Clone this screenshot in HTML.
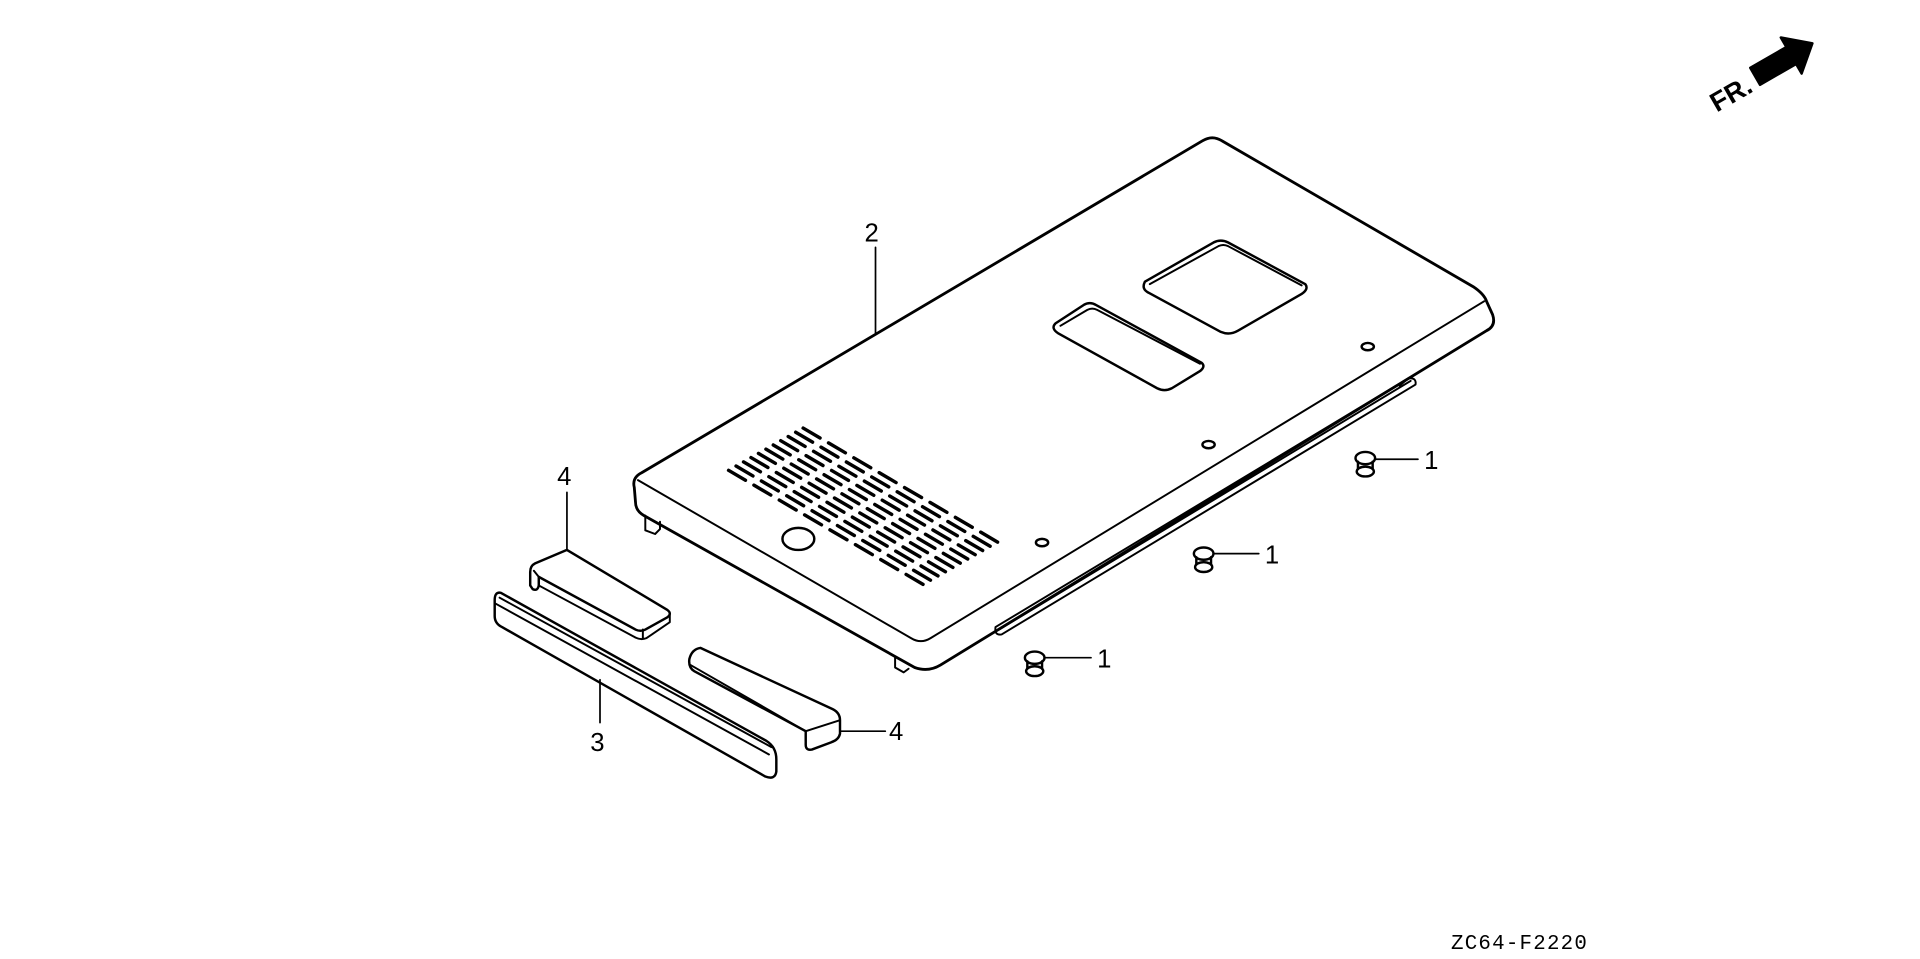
<!DOCTYPE html>
<html><head><meta charset="utf-8"><style>
html,body{margin:0;padding:0;background:#fff;}
svg{display:block;}
text{font-family:"Liberation Sans",sans-serif;fill:#000;}
</style></head><body>
<svg width="1920" height="959" viewBox="0 0 1568 783" preserveAspectRatio="none" xmlns="http://www.w3.org/2000/svg">
<g fill="none" stroke="#000" stroke-width="1.6" stroke-linejoin="round" stroke-linecap="round">
<path d="M518,398 Q516,390 524,386 L982,115 Q990,110 998,115 L1203,234 Q1212,240 1214,246 L1219,257 Q1222,266 1214,270 L768,543 Q758,549 747,545 L526,421 Q519,417 519,410 Z" stroke-width="2.3"/>
<path d="M521,392 L744,521 Q752,526 760,521 L1212,246"/>
<path d="M813,512 L1150,309 Q1157,308 1156,314 L818,518 Q812,519 813,512 Z"/>
<path d="M816,514 L1152,311"/>
<path d="M1143,315 L1150,309"/>
<path d="M527,421 L527,433 L535,436 L539,432 L539,426"/>
<path d="M731,537 L731,545 L738,549 L742,546"/>
<path d="M935,230 Q932,236 938,239 L997,271 Q1004,274 1011,270 L1063,240 Q1069,236 1066,232 L1003,198 Q997,195 991,198 Z" stroke-width="2"/>
<path d="M939,232 L995,201 Q999,199 1003,201 L1063,233"/>
<path d="M862,264 Q858,268 864,272 L945,317 Q951,320 957,317 L980,303 Q985,299 981,296 L895,249 Q890,246 885,249 Z" stroke-width="2"/>
<path d="M866,266 L888,253 Q892,251 896,253 L980,297"/>
<ellipse cx="652" cy="440" rx="13" ry="9" stroke-width="2"/>
<ellipse cx="1117" cy="283" rx="5" ry="3" stroke-width="2"/>
<ellipse cx="987" cy="363" rx="5" ry="3" stroke-width="2"/>
<ellipse cx="851" cy="443" rx="5" ry="3" stroke-width="2"/>
<g id="vents" stroke-width="2.8"></g>
<path d="M463,449 L545,498 Q549,501 545,504 L527,514 Q523,516 519,514 L440,471 L440,478 Q439,483 435,481 L433,478 L433,467 Q433,462 437,460 Z" stroke-width="2"/>
<path d="M440,471 L436,466 M547,502 L547,508 L528,521 Q523,523 518,520 L440,478 M525,514 L525,521"/>
<path d="M409,484 L626,605 Q634,610 634,620 L634,630 Q633,637 625,634 L410,512 Q404,509 404,503 L404,490 Q404,483 409,484 Z" stroke-width="2"/>
<path d="M405,493 L628,616 M408,488 L630,610"/>
<path d="M572,529 L680,579 Q686,582 686,588 L686,599 Q685,604 679,606 L663,612 Q658,613 658,608 L658,597 L567,548 Q562,545 563,538 Q565,530 572,529 Z" stroke-width="2"/>
<path d="M564,543 L658,597 L686,588"/>
<g stroke-width="2">
<ellipse cx="1115" cy="374" rx="8" ry="5"/><ellipse cx="1115" cy="385" rx="7" ry="4"/><path d="M1109,377 L1109,383 M1121,377 L1121,383"/>
<ellipse cx="983" cy="452" rx="8" ry="5"/><ellipse cx="983" cy="463" rx="7" ry="4"/><path d="M977,455 L977,461 M989,455 L989,461"/>
<ellipse cx="845" cy="537" rx="8" ry="5"/><ellipse cx="845" cy="548" rx="7" ry="4"/><path d="M839,540 L839,546 M851,540 L851,546"/>
</g>
<path d="M1123,375 L1158,375 M991,452 L1028,452 M853,537 L891,537 M715,202 L715,272 M463,402 L463,449 M490,555 L490,590 M686,597 L723,597" stroke-width="1.4"/>
</g>
<g font-size="21">
<text x="1163" y="383">1</text>
<text x="1033" y="460">1</text>
<text x="896" y="545">1</text>
<text x="706" y="197">2</text>
<text x="455" y="396">4</text>
<text x="482" y="613">3</text>
<text x="726" y="604">4</text>
</g>
<text x="1185" y="775" font-size="17" style='font-family:"Liberation Mono",monospace' letter-spacing="1">ZC64-F2220</text>
<g transform="translate(1402,92) rotate(-30)">
<text x="0" y="0" font-size="22" font-weight="bold">FR.</text>
<path d="M42,-18 L76,-18 L76,-27 L96,-10 L76,7 L76,-2 L42,-2 Z" fill="#000" stroke="#000" stroke-width="2" stroke-linejoin="round"/>
</g>
</svg>
<script>
var g=document.getElementById('vents');var s='';
var ux=0.863,uy=0.506,vx=0.870,vy=-0.493;
for(var r=0;r<8;r++){for(var c=0;c<11;c++){
 var ox=595+r*24*ux+c*7*vx, oy=384+r*24*uy+c*7*vy;
 s+='<line x1="'+ox.toFixed(1)+'" y1="'+oy.toFixed(1)+'" x2="'+(ox+16*ux).toFixed(1)+'" y2="'+(oy+16*uy).toFixed(1)+'"/>';
}}
g.innerHTML=s;
</script>
</body></html>
